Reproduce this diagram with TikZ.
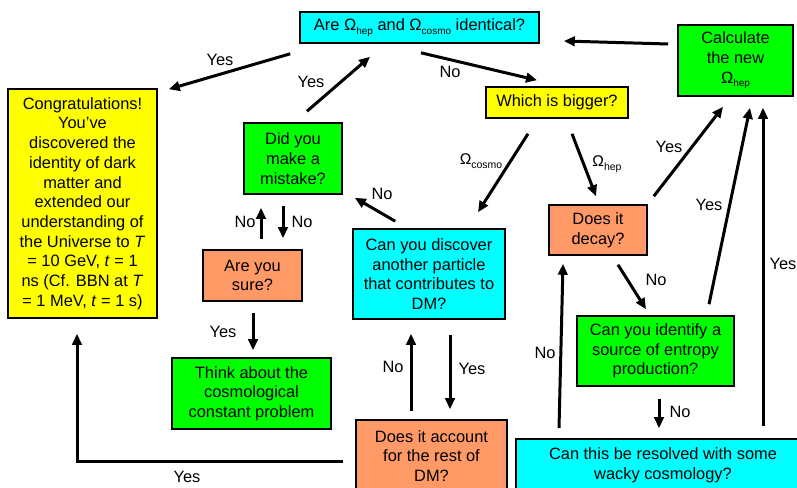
\documentclass[tikz,border=0pt]{standalone}
\usepackage{fontspec}
\setmainfont{Liberation Sans}
\usetikzlibrary{arrows.meta}
\definecolor{cyanbox}{HTML}{00FFFF}
\definecolor{yellowbox}{HTML}{FFFF00}
\definecolor{greenbox}{HTML}{00FF00}
\definecolor{orangebox}{HTML}{FF9966}
\newcommand\lsub[1]{\raisebox{-0.22em}{\fontsize{10}{10}\selectfont #1}}
\newcommand\ssub[1]{\raisebox{-0.22em}{\fontsize{10.5}{10}\selectfont #1}}
\begin{document}
\begin{tikzpicture}[x=1pt,y=-1pt,
  box/.style={draw=black,line width=1.6pt,align=center,inner sep=0pt,font=\fontsize{16.4}{19.7}\selectfont},
  arr/.style={line width=3pt,-{Triangle[length=11pt,width=9.5pt]}},
  lab/.style={inner sep=0pt,font=\fontsize{16.4}{19.7}\selectfont},
  slab/.style={inner sep=0pt,font=\fontsize{15.5}{16}\selectfont}]
\useasboundingbox (0,0) rectangle (797,487);
\clip (0,0) rectangle (797,487);
\fill[white] (0,0) rectangle (797,487);
% boxes
\node[box,fill=cyanbox,minimum width=239pt,minimum height=31pt] (q1) at (419.5,27.5) {Are Ω\lsub{hep} and Ω\lsub{cosmo} identical?};
\node[box,fill=greenbox,minimum width=115pt,minimum height=71pt] (calc) at (735.5,60.5) {Calculate\\the new\\Ω\lsub{hep}};
\node[box,fill=yellowbox,minimum width=142pt,minimum height=31pt] (big) at (557,102.5) {Which is bigger?};
\node[box,fill=yellowbox,minimum width=149pt,minimum height=229pt] (cong) at (82.5,203.5) {Congratulations!\\You’ve\\discovered the\\identity of dark\\matter and\\extended our\\understanding of\\the Universe to \textit{T}\\= 10 GeV, \textit{t} = 1\\ns (Cf. BBN at \textit{T}\\= 1 MeV, \textit{t} = 1 s)};
\node[box,fill=greenbox,minimum width=98pt,minimum height=71pt] (mist) at (293,158.5) {Did you\\make a\\mistake?};
\node[box,fill=orangebox,minimum width=99pt,minimum height=51pt] (sure) at (252.5,275.5) {Are you\\sure?};
\node[box,fill=greenbox,minimum width=159pt,minimum height=71pt] (think) at (251.5,393.5) {Think about the\\cosmological\\constant problem};
\node[box,fill=cyanbox,minimum width=152pt,minimum height=90pt] (disc) at (429,274) {Can you discover\\another particle\\that contributes to\\DM?};
\node[box,fill=orangebox,minimum width=151pt,minimum height=72pt] (acc) at (431.5,456) {Does it account\\for the rest of\\DM?};
\node[box,fill=orangebox,minimum width=98pt,minimum height=50pt] (dec) at (598,230) {Does it\\decay?};
\node[box,fill=greenbox,minimum width=157pt,minimum height=70pt] (ident) at (655.5,351) {Can you identify a\\source of entropy\\production?};
\node[box,fill=cyanbox,minimum width=294pt,minimum height=52pt] (res) at (663,465) {Can this be resolved with some\\wacky cosmology?};
% arrows
\draw[arr] ([shift={(-9,10)}]q1.south west) -- ([shift={(11,1)}]cong.north east);
\draw[arr] ([shift={(14,-11)}]mist.north) -- ([shift={(-49.5,13)}]q1.south);
\draw[arr] ([shift={(1.5,9)}]q1.south) -- ([shift={(-20,-6)}]big.north);
\draw[arr] ([shift={(-9,-16.5)}]calc.west) -- ([shift={(24,13.5)}]q1.east);
\draw[arr] ([shift={(-29,15)}]big.south) -- ([shift={(49,-16)}]disc.north);
\draw[arr] ([shift={(15,15)}]big.south) -- ([shift={(-2,-8)}]dec.north);
\draw[arr] ([shift={(6,-8)}]dec.north east) -- ([shift={(-12.5,10)}]calc.south);
\draw[arr] ([shift={(53.5,-11)}]ident.north) -- ([shift={(14.5,11)}]calc.south);
\draw[arr] ([shift={(100,-12)}]res.north) -- ([shift={(27.5,11)}]calc.south);
\draw[arr] ([shift={(20,9)}]dec.south) -- ([shift={(-9.5,-6)}]ident.north);
\draw[arr] ([shift={(3.5,12)}]ident.south) -- ([shift={(-4,-10)}]res.north);
\draw[arr] ([shift={(-104,-10)}]res.north) -- ([shift={(-35,8)}]dec.south);
\draw[arr] ([shift={(-20.5,-8)}]acc.north) -- ([shift={(-18,14)}]disc.south);
\draw[arr] ([shift={(21,15)}]disc.south) -- ([shift={(18.5,-10)}]acc.north);
\draw[arr] ([shift={(43,-7)}]disc.north west) -- ([shift={(12,3)}]mist.south east);
\draw[arr] ([shift={(8.5,-10)}]sure.north) -- ([shift={(-32,13)}]mist.south);
\draw[arr] ([shift={(-10,11)}]mist.south) -- ([shift={(30.5,-11)}]sure.north);
\draw[arr] ([shift={(0.5,11)}]sure.south) -- ([shift={(1.5,-7)}]think.north);
\draw[arr] ([shift={(-12,5)}]acc.west) -| ([shift={(-5.5,15)}]cong.south);
% labels
\node[lab] (l1) at (220,60) {Yes};
\node[lab] (l2) at (311,82) {Yes};
\node[lab] (l3) at (450,72) {No};
\node[slab] (l4) at (481,161) {Ω\ssub{cosmo}};
\node[slab] (l5) at (607,164) {Ω\ssub{hep}};
\node[lab] (l6) at (669,147) {Yes};
\node[lab] (l7) at (709,205) {Yes};
\node[lab] (l8) at (783,264) {Yes};
\node[lab] (l9) at (656,280) {No};
\node[lab] (l10) at (680,412) {No};
\node[lab] (l11) at (545,353) {No};
\node[lab] (l12) at (393,367) {No};
\node[lab] (l13) at (472,369) {Yes};
\node[lab] (l14) at (382,194) {No};
\node[lab] (l15) at (245,222) {No};
\node[lab] (l16) at (302,222) {No};
\node[lab] (l17) at (223,332) {Yes};
\node[lab] (l18) at (187,477) {Yes};
\end{tikzpicture}
\end{document}
